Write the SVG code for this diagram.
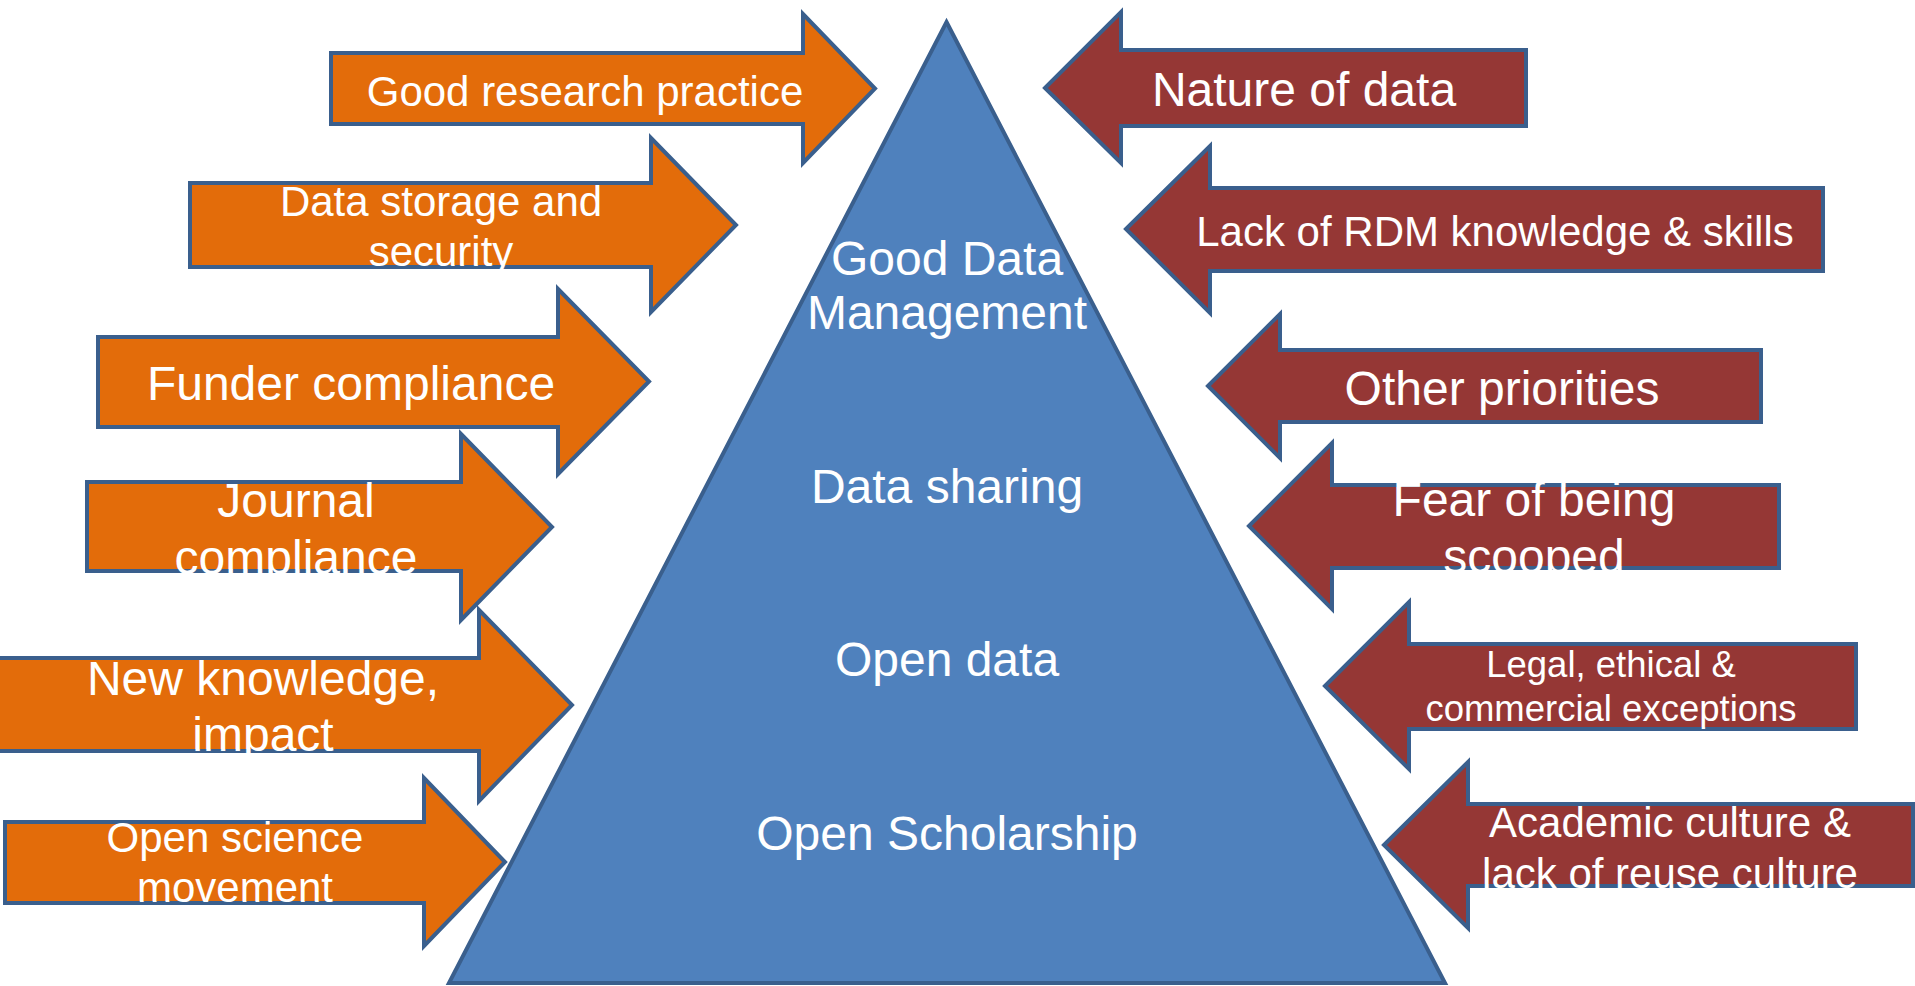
<svg xmlns="http://www.w3.org/2000/svg" width="1915" height="986" viewBox="0 0 1915 986">
<defs>
<style>
.arr{stroke:#3A5F8D;stroke-width:4;stroke-linejoin:miter}
.or{fill:#E36C0A}
.rd{fill:#953735}
.tri{fill:#4F81BD;stroke:#3A5F8D;stroke-width:4}
text{font-family:"Liberation Sans",Arial,sans-serif;fill:#FFFFFF;text-anchor:middle}
.f48{font-size:48px}
.f42{font-size:42px}
.f36{font-size:36.5px}
</style>
<clipPath id="c1"><rect x="0" y="0" width="1915" height="126"/></clipPath>
<clipPath id="c2"><rect x="0" y="0" width="1915" height="269"/></clipPath>
<clipPath id="c3"><rect x="0" y="0" width="1915" height="429"/></clipPath>
<clipPath id="c4"><rect x="0" y="0" width="1915" height="573"/></clipPath>
<clipPath id="c5"><rect x="0" y="0" width="1915" height="753"/></clipPath>
<clipPath id="c6"><rect x="0" y="0" width="1915" height="905"/></clipPath>
<clipPath id="d1"><rect x="0" y="0" width="1915" height="128"/></clipPath>
<clipPath id="d2"><rect x="0" y="0" width="1915" height="273"/></clipPath>
<clipPath id="d3"><rect x="0" y="0" width="1915" height="424"/></clipPath>
<clipPath id="d4"><rect x="0" y="0" width="1915" height="570"/></clipPath>
<clipPath id="d5"><rect x="0" y="0" width="1915" height="731"/></clipPath>
<clipPath id="d6"><rect x="0" y="0" width="1915" height="888"/></clipPath>
</defs>
<rect width="1915" height="986" fill="#FFFFFF"/>

<g id="pyramid">
<path class="tri" d="M946.5,22 L1445,983 L449,983 Z"/>
<text class="f48" x="947" y="275">Good Data</text>
<text class="f48" x="947" y="329">Management</text>
<text class="f48" x="947" y="503">Data sharing</text>
<text class="f48" x="947" y="676">Open data</text>
<text class="f48" x="947" y="850">Open Scholarship</text>
</g>

<g id="driver-good-research-practice">
<path class="arr or" d="M331,53 H803 V14 L875,88.5 L803,163 V124 H331 Z"/>
<text class="f42" x="585" y="106" clip-path="url(#c1)">Good research practice</text>
</g>
<g id="driver-data-storage">
<path class="arr or" d="M190,183 H651 V138 L736,225 L651,312 V267 H190 Z"/>
<g clip-path="url(#c2)">
<text class="f42" x="441" y="216">Data storage and</text>
<text class="f42" x="441" y="266">security</text>
</g>
</g>
<g id="driver-funder-compliance">
<path class="arr or" d="M98,337 H558 V289 L649,381.5 L558,474 V427 H98 Z"/>
<text class="f48" x="351" y="400" clip-path="url(#c3)">Funder compliance</text>
</g>
<g id="driver-journal-compliance">
<path class="arr or" d="M87,482 H461 V434 L552,527 L461,620 V571 H87 Z"/>
<g clip-path="url(#c4)">
<text class="f48" x="296" y="517">Journal</text>
<text class="f48" x="296" y="574">compliance</text>
</g>
</g>
<g id="driver-new-knowledge">
<path class="arr or" d="M-2,658 H479 V610 L572,705 L479,801 V751 H-2 Z"/>
<g clip-path="url(#c5)">
<text class="f48" x="263" y="695">New knowledge,</text>
<text class="f48" x="263" y="751">impact</text>
</g>
</g>
<g id="driver-open-science">
<path class="arr or" d="M5,822 H424 V778 L505,862 L424,946 V903 H5 Z"/>
<g clip-path="url(#c6)">
<text class="f42" x="235" y="852">Open science</text>
<text class="f42" x="235" y="902">movement</text>
</g>
</g>

<g id="barrier-nature-of-data">
<path class="arr rd" d="M1045,88 L1121,12 V50 H1526 V126 H1121 V163 Z"/>
<text class="f48" x="1304" y="106" clip-path="url(#d1)">Nature of data</text>
</g>
<g id="barrier-lack-of-rdm">
<path class="arr rd" d="M1126,229 L1210,146 V188 H1823 V271 H1210 V313 Z"/>
<text class="f42" x="1495" y="246" clip-path="url(#d2)">Lack of RDM knowledge &amp; skills</text>
</g>
<g id="barrier-other-priorities">
<path class="arr rd" d="M1208,386 L1280,314 V350 H1761 V422 H1280 V458 Z"/>
<text class="f48" x="1502" y="405" clip-path="url(#d3)">Other priorities</text>
</g>
<g id="barrier-fear-of-being-scooped">
<path class="arr rd" d="M1249,526 L1332,443 V485 H1779 V568 H1332 V609 Z"/>
<g clip-path="url(#d4)">
<text class="f48" x="1534" y="516">Fear of being</text>
<text class="f48" x="1534" y="573">scooped</text>
</g>
</g>
<g id="barrier-legal-ethical">
<path class="arr rd" d="M1325,686 L1409,602 V644 H1856 V729 H1409 V769 Z"/>
<g clip-path="url(#d5)">
<text class="f36" x="1611" y="677">Legal, ethical &amp;</text>
<text class="f36" x="1611" y="721">commercial exceptions</text>
</g>
</g>
<g id="barrier-academic-culture">
<path class="arr rd" d="M1384,845 L1468,762 V804 H1913 V886 H1468 V928 Z"/>
<g clip-path="url(#d6)">
<text class="f42" x="1670" y="837">Academic culture &amp;</text>
<text class="f42" x="1670" y="888">lack of reuse culture</text>
</g>
</g>
<g id="connectors"/>
</svg>
